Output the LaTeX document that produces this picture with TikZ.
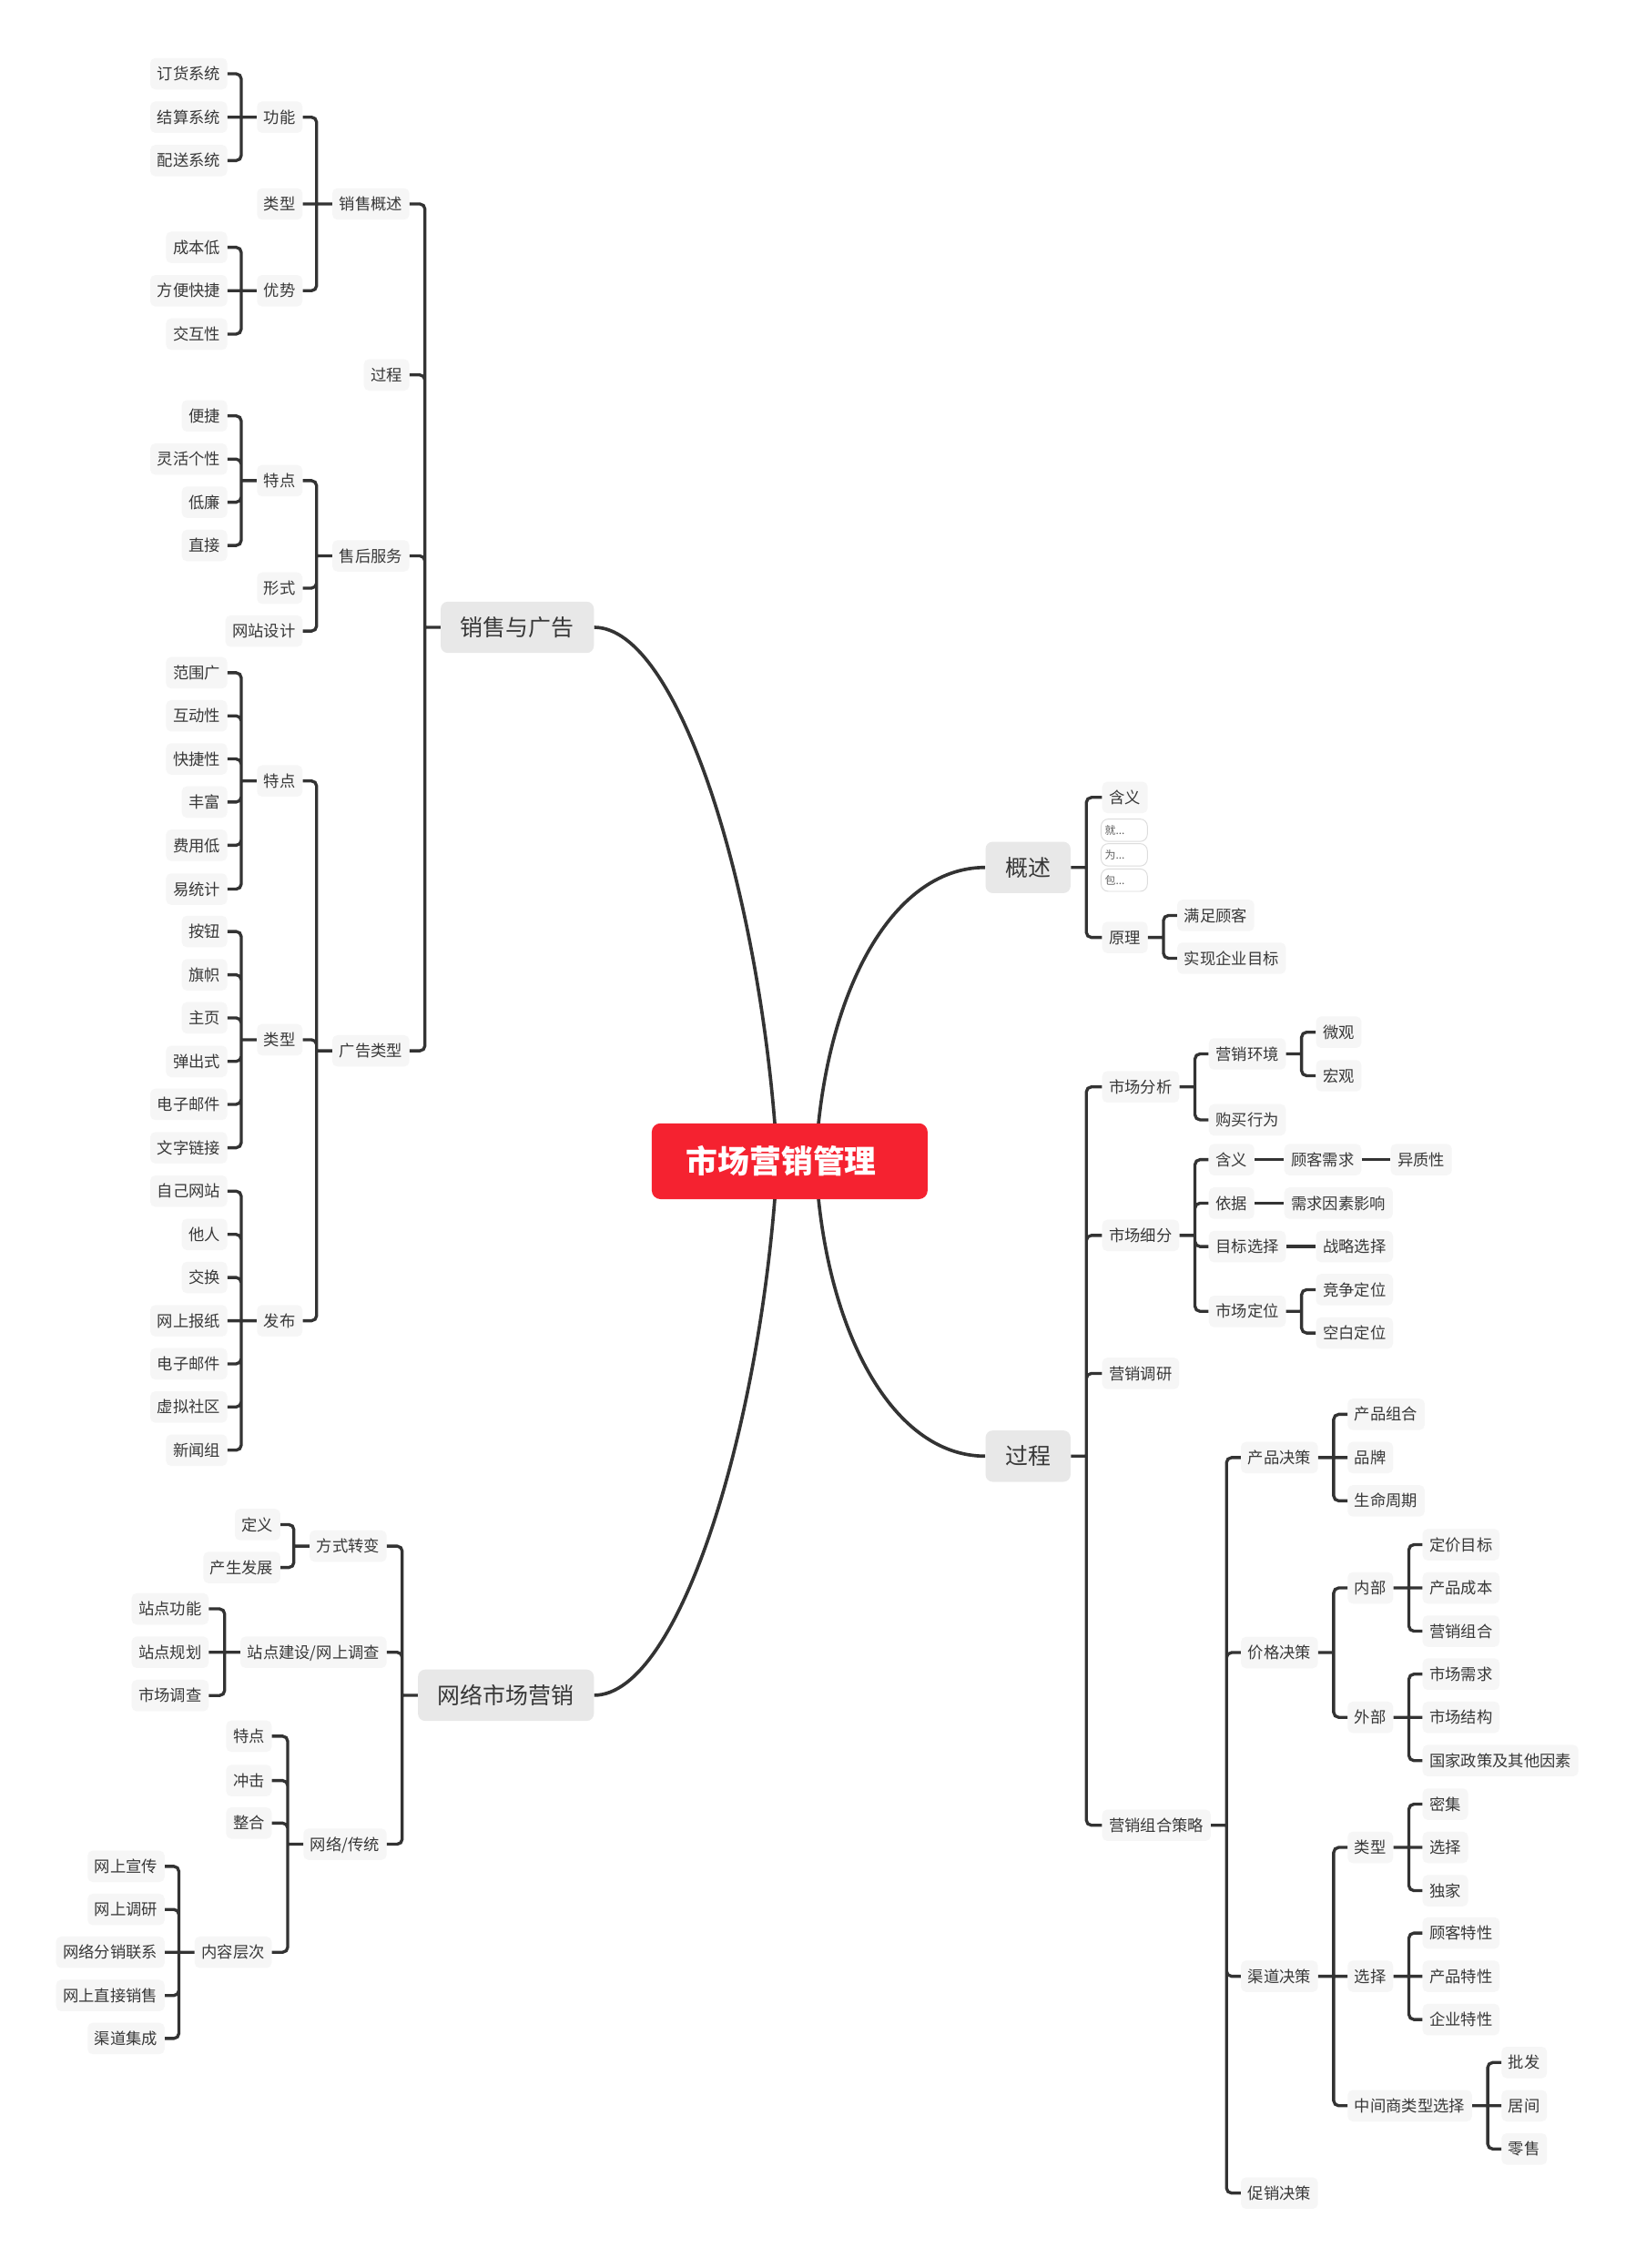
\documentclass[tikz,border=0pt]{standalone}
\usepackage{fontspec}
\setmainfont{Noto Sans CJK SC}
\usepackage{xcolor}
\usepackage{tikz}
\usetikzlibrary{backgrounds}

\definecolor{linegray}{HTML}{333333}
\definecolor{txtgray}{HTML}{383838}
\definecolor{topicfill}{HTML}{E8E8E8}
\definecolor{subfill}{HTML}{F6F6F6}
\definecolor{rootred}{HTML}{F52230}
\definecolor{noteline}{HTML}{DCDCDC}

\begin{document}
\begin{tikzpicture}[x=1pt, y=-1pt,
    root/.style={rectangle, rounded corners=6pt, fill=rootred, text=white,
                 font=\fontsize{21.9}{26}\selectfont\bfseries, align=left,
                 text width=142.9pt, inner xsep=23.9pt, inner ysep=0pt,
                 minimum height=52.4pt, text height=18.8pt, text depth=2.2pt},
    topic/.style={rectangle, rounded corners=5pt, fill=topicfill, text=txtgray,
                  font=\fontsize{15.7}{18}\selectfont, inner xsep=13.7pt,
                  inner ysep=0pt, minimum height=35.5pt,
                  text height=13.5pt, text depth=1.6pt},
    sub/.style={rectangle, rounded corners=3.5pt, fill=subfill, text=txtgray,
                font=\fontsize{10.9}{13}\selectfont, inner xsep=4.8pt,
                inner ysep=0pt, minimum height=21.7pt,
                text height=9.4pt, text depth=1.1pt},
    lsub/.style={sub, anchor=east},
    rsub/.style={sub, anchor=west},
    note/.style={rectangle, rounded corners=5pt, draw=noteline, line width=0.6pt,
                 fill=white, text=txtgray!80, font=\fontsize{7.5}{9}\selectfont,
                 anchor=west, align=left, text width=26.8pt, inner xsep=2.6pt,
                 inner ysep=0pt, minimum height=15.5pt},
    lnk/.style={draw=linegray, line width=2.1pt, rounded corners=3.5pt},
    trunk/.style={draw=linegray, line width=2.3pt},
]
\useasboundingbox (0,0) rectangle (1131,1568);

% root and main topics
\node[root] (root) at (546,802.8) {市场营销管理};
\node[topic, anchor=east] (xsgg) at (410.8,433.7) {销售与广告};
\node[topic, anchor=east] (wlyx) at (410.8,1172) {网络市场营销};
\node[topic, anchor=west] (gs) at (681.2,599.7) {概述};
\node[topic, anchor=west] (gc) at (681.2,1006.7) {过程};
\coordinate (rootL) at (537.5,802.8);
\coordinate (rootR) at (564,802.8);

% 销售与广告: 销售概述
\node[lsub] (xsgs) at (283.2,141) {销售概述};
\node[lsub] (gn)   at (209.3,81)  {功能};
\node[lsub] (xslx) at (209.3,141) {类型};
\node[lsub] (ys)   at (209.3,201) {优势};
\node[lsub] (dhxt) at (157.3,51)  {订货系统};
\node[lsub] (jsxt) at (157.3,81)  {结算系统};
\node[lsub] (psxt) at (157.3,111) {配送系统};
\node[lsub] (cbd)  at (157.3,171) {成本低};
\node[lsub] (fbkj) at (157.3,201) {方便快捷};
\node[lsub] (jhx)  at (157.3,231) {交互性};

% 销售与广告: 过程, 售后服务
\node[lsub] (xsgc) at (283.2,259.2) {过程};
\node[lsub] (shfw) at (283.2,384.3) {售后服务};
\node[lsub] (shtd) at (209.3,332.3) {特点};
\node[lsub] (xs)   at (209.3,406.6) {形式};
\node[lsub] (wzsj) at (209.3,436.3) {网站设计};
\node[lsub] (bj)   at (157.3,287.5) {便捷};
\node[lsub] (lhgx) at (157.3,317.4) {灵活个性};
\node[lsub] (dl)   at (157.3,347.2) {低廉};
\node[lsub] (zj)   at (157.3,377.1) {直接};

% 销售与广告: 广告类型
\node[lsub] (gglx) at (283.2,726.5) {广告类型};
\node[lsub] (ggtd) at (209.3,539.9) {特点};
\node[lsub] (ggty) at (209.3,718.8) {类型};
\node[lsub] (ggfb) at (209.3,913.1) {发布};
\node[lsub] (fwg)  at (157.3,465.1) {范围广};
\node[lsub] (hdx)  at (157.3,494.9) {互动性};
\node[lsub] (kjx)  at (157.3,524.7) {快捷性};
\node[lsub] (ff)   at (157.3,554.5) {丰富};
\node[lsub] (fyd)  at (157.3,584.4) {费用低};
\node[lsub] (ytj)  at (157.3,614.7) {易统计};
\node[lsub] (an)   at (157.3,644)   {按钮};
\node[lsub] (qz)   at (157.3,673.9) {旗帜};
\node[lsub] (zy)   at (157.3,703.7) {主页};
\node[lsub] (tcs)  at (157.3,733.8) {弹出式};
\node[lsub] (dzyj) at (157.3,763.5) {电子邮件};
\node[lsub] (wzlj) at (157.3,793.5) {文字链接};
\node[lsub] (zjwz) at (157.3,823.5) {自己网站};
\node[lsub] (tr)   at (157.3,853.4) {他人};
\node[lsub] (jh)   at (157.3,883.2) {交换};
\node[lsub] (wsbz) at (157.3,913.1) {网上报纸};
\node[lsub] (dzyjb) at (157.3,942.9) {电子邮件};
\node[lsub] (xnsq) at (157.3,972.7) {虚拟社区};
\node[lsub] (xwz)  at (157.3,1002.6) {新闻组};

% 网络市场营销
\node[lsub] (fszb) at (267.5,1068.9) {方式转变};
\node[lsub] (dy)   at (194,1054)     {定义};
\node[lsub] (csfz) at (194,1083.7)   {产生发展};
\node[lsub] (zdjs) at (267.5,1142.3) {站点建设/网上调查};
\node[lsub] (zdgn) at (144.4,1112.3) {站点功能};
\node[lsub] (zdgh) at (144.4,1142.3) {站点规划};
\node[lsub] (scdc) at (144.4,1172.2) {市场调查};
\node[lsub] (wlct) at (267.5,1275)   {网络/传统};
\node[lsub] (wltd) at (188,1200.3)   {特点};
\node[lsub] (cj)   at (188,1231)     {冲击};
\node[lsub] (zh)   at (188,1260.4)   {整合};
\node[lsub] (nrcc) at (188,1349.7)   {内容层次};
\node[lsub] (wsxc) at (114,1290.3)   {网上宣传};
\node[lsub] (wsdy) at (114,1320.1)   {网上调研};
\node[lsub] (wlfx) at (114,1349.7)   {网络分销联系};
\node[lsub] (wszx) at (114,1379.6)   {网上直接销售};
\node[lsub] (qdjch) at (114,1409.3)  {渠道集成};

% 概述
\node[rsub] (gshy) at (761.9,551.3) {含义};
\node[note] (nt1)  at (761,574)     {就...};
\node[note] (nt2)  at (761,591)     {为...};
\node[note] (nt3)  at (761,608.5)   {包...};
\node[rsub] (yl)   at (761.9,648.1) {原理};
\node[rsub] (mzgk) at (813.8,632.9) {满足顾客};
\node[rsub] (sxmb) at (813.8,662.5) {实现企业目标};

% 过程: 市场分析, 市场细分, 营销调研
\node[rsub] (scfx) at (761.9,751.4) {市场分析};
\node[rsub] (yxhj) at (835.6,728.6) {营销环境};
\node[rsub] (wg)   at (909.7,713.6) {微观};
\node[rsub] (hg)   at (909.7,743.7) {宏观};
\node[rsub] (gmxw) at (835.6,774.2) {购买行为};
\node[rsub] (scxf) at (761.9,854.1) {市场细分};
\node[rsub] (xfhy) at (835.6,801.7) {含义};
\node[rsub] (gkxq) at (887.8,801.7) {顾客需求};
\node[rsub] (yzx)  at (961.3,801.7) {异质性};
\node[rsub] (yj)   at (835.6,831.8) {依据};
\node[rsub] (xqys) at (887.8,831.8) {需求因素影响};
\node[rsub] (mbxz) at (835.6,861.8) {目标选择};
\node[rsub] (zlxz) at (909.7,861.8) {战略选择};
\node[rsub] (scdw) at (835.6,906.6) {市场定位};
\node[rsub] (jzdw) at (909.7,891.6) {竞争定位};
\node[rsub] (kbdw) at (909.7,921.6) {空白定位};
\node[rsub] (yxdy) at (761.9,949.5) {营销调研};

% 过程: 营销组合策略
\node[rsub] (yxcl) at (761.9,1261.9) {营销组合策略};
\node[rsub] (cpjc) at (857.8,1007.7) {产品决策};
\node[rsub] (cpzh) at (931.6,977.8)  {产品组合};
\node[rsub] (pp)   at (931.6,1007.7) {品牌};
\node[rsub] (smzq) at (931.6,1037.6) {生命周期};
\node[rsub] (jgjc) at (857.8,1142.5) {价格决策};
\node[rsub] (nb)   at (931.6,1097.8) {内部};
\node[rsub] (djmb) at (983.4,1067.9) {定价目标};
\node[rsub] (cpcb) at (983.4,1097.8) {产品成本};
\node[rsub] (yxzh) at (983.4,1127.7) {营销组合};
\node[rsub] (wb)   at (931.6,1187.3) {外部};
\node[rsub] (scxq) at (983.4,1157.4) {市场需求};
\node[rsub] (scjg) at (983.4,1187.3) {市场结构};
\node[rsub] (gjzc) at (983.4,1217.2) {国家政策及其他因素};
\node[rsub] (qdjc) at (857.8,1366.3) {渠道决策};
\node[rsub] (qdlx) at (931.6,1277.2) {类型};
\node[rsub] (mj)   at (983.4,1247.3) {密集};
\node[rsub] (lxxz) at (983.4,1277.2) {选择};
\node[rsub] (dj)   at (983.4,1307.1) {独家};
\node[rsub] (qdxz) at (931.6,1366.3) {选择};
\node[rsub] (gktx) at (983.4,1336.4) {顾客特性};
\node[rsub] (cptx) at (983.4,1366.3) {产品特性};
\node[rsub] (qytx) at (983.4,1396.2) {企业特性};
\node[rsub] (zjs)  at (931.6,1455.8) {中间商类型选择};
\node[rsub] (pf)   at (1038,1425.9)  {批发};
\node[rsub] (jj)   at (1038,1455.8)  {居间};
\node[rsub] (ls)   at (1038,1485.7)  {零售};
\node[rsub] (cxjc) at (857.8,1516.2) {促销决策};

% left brackets
\draw[lnk] (xsgg.west) -- ++(-10.7,0) coordinate (j) (j) |- (xsgs.east) (j) |- (xsgc.east) (j) |- (shfw.east) (j) |- (gglx.east);
\draw[lnk] (xsgs.west) -- ++(-10.7,0) coordinate (j) (j) |- (gn.east) (j) -- (xslx.east) (j) |- (ys.east);
\draw[lnk] (gn.west) -- ++(-10.7,0) coordinate (j) (j) |- (dhxt.east) (j) -- (jsxt.east) (j) |- (psxt.east);
\draw[lnk] (ys.west) -- ++(-10.7,0) coordinate (j) (j) |- (cbd.east) (j) -- (fbkj.east) (j) |- (jhx.east);
\draw[lnk] (shfw.west) -- ++(-10.7,0) coordinate (j) (j) |- (shtd.east) (j) |- (xs.east) (j) |- (wzsj.east);
\draw[lnk] (shtd.west) -- ++(-10.7,0) coordinate (j) (j) |- (bj.east) (j) |- (lhgx.east) (j) |- (dl.east) (j) |- (zj.east);
\draw[lnk] (gglx.west) -- ++(-10.7,0) coordinate (j) (j) |- (ggtd.east) (j) |- (ggty.east) (j) |- (ggfb.east);
\draw[lnk] (ggtd.west) -- ++(-10.7,0) coordinate (j) (j) |- (fwg.east) (j) |- (hdx.east) (j) |- (kjx.east) (j) |- (ff.east) (j) |- (fyd.east) (j) |- (ytj.east);
\draw[lnk] (ggty.west) -- ++(-10.7,0) coordinate (j) (j) |- (an.east) (j) |- (qz.east) (j) |- (zy.east) (j) |- (tcs.east) (j) |- (dzyj.east) (j) |- (wzlj.east);
\draw[lnk] (ggfb.west) -- ++(-10.7,0) coordinate (j) (j) |- (zjwz.east) (j) |- (tr.east) (j) |- (jh.east) (j) -- (wsbz.east) (j) |- (dzyjb.east) (j) |- (xnsq.east) (j) |- (xwz.east);
\draw[lnk] (wlyx.west) -- ++(-10.7,0) coordinate (j) (j) |- (fszb.east) (j) |- (zdjs.east) (j) |- (wlct.east);
\draw[lnk] (fszb.west) -- ++(-10.7,0) coordinate (j) (j) |- (dy.east) (j) |- (csfz.east);
\draw[lnk] (zdjs.west) -- ++(-10.7,0) coordinate (j) (j) |- (zdgn.east) (j) -- (zdgh.east) (j) |- (scdc.east);
\draw[lnk] (wlct.west) -- ++(-10.7,0) coordinate (j) (j) |- (wltd.east) (j) |- (cj.east) (j) |- (zh.east) (j) |- (nrcc.east);
\draw[lnk] (nrcc.west) -- ++(-10.7,0) coordinate (j) (j) |- (wsxc.east) (j) |- (wsdy.east) (j) -- (wlfx.east) (j) |- (wszx.east) (j) |- (qdjch.east);

% right brackets
\draw[lnk] (gs.east) -- ++(10.7,0) coordinate (j) (j) |- (gshy.west) (j) |- (yl.west);
\draw[lnk] (yl.east) -- ++(10.7,0) coordinate (j) (j) |- (mzgk.west) (j) |- (sxmb.west);
\draw[lnk] (gc.east) -- ++(10.7,0) coordinate (j) (j) |- (scfx.west) (j) |- (scxf.west) (j) |- (yxdy.west) (j) |- (yxcl.west);
\draw[lnk] (scfx.east) -- ++(10.7,0) coordinate (j) (j) |- (yxhj.west) (j) |- (gmxw.west);
\draw[lnk] (yxhj.east) -- ++(10.7,0) coordinate (j) (j) |- (wg.west) (j) |- (hg.west);
\draw[lnk] (scxf.east) -- ++(10.7,0) coordinate (j) (j) |- (xfhy.west) (j) |- (yj.west) (j) |- (mbxz.west) (j) |- (scdw.west);
\draw[lnk] (xfhy.east) -- (gkxq.west);
\draw[lnk] (gkxq.east) -- (yzx.west);
\draw[lnk] (yj.east) -- (xqys.west);
\draw[lnk] (mbxz.east) -- (zlxz.west);
\draw[lnk] (scdw.east) -- ++(10.7,0) coordinate (j) (j) |- (jzdw.west) (j) |- (kbdw.west);
\draw[lnk] (yxcl.east) -- ++(10.7,0) coordinate (j) (j) |- (cpjc.west) (j) |- (jgjc.west) (j) |- (qdjc.west) (j) |- (cxjc.west);
\draw[lnk] (cpjc.east) -- ++(10.7,0) coordinate (j) (j) |- (cpzh.west) (j) -- (pp.west) (j) |- (smzq.west);
\draw[lnk] (jgjc.east) -- ++(10.7,0) coordinate (j) (j) |- (nb.west) (j) |- (wb.west);
\draw[lnk] (nb.east) -- ++(10.7,0) coordinate (j) (j) |- (djmb.west) (j) -- (cpcb.west) (j) |- (yxzh.west);
\draw[lnk] (wb.east) -- ++(10.7,0) coordinate (j) (j) |- (scxq.west) (j) -- (scjg.west) (j) |- (gjzc.west);
\draw[lnk] (qdjc.east) -- ++(10.7,0) coordinate (j) (j) |- (qdlx.west) (j) -- (qdxz.west) (j) |- (zjs.west);
\draw[lnk] (qdlx.east) -- ++(10.7,0) coordinate (j) (j) |- (mj.west) (j) -- (lxxz.west) (j) |- (dj.west);
\draw[lnk] (qdxz.east) -- ++(10.7,0) coordinate (j) (j) |- (gktx.west) (j) -- (cptx.west) (j) |- (qytx.west);
\draw[lnk] (zjs.east) -- ++(10.7,0) coordinate (j) (j) |- (pf.west) (j) -- (jj.west) (j) |- (ls.west);

% main curves behind the root
\begin{scope}[on background layer]
\fill[white] (0,0) rectangle (1131,1568);
\draw[trunk] (rootL) .. controls +(-10.5,-183) and +(59,0) .. (xsgg.east);
\draw[trunk] (rootL) .. controls +(-10.5,183) and +(59,0) .. (wlyx.east);
\draw[trunk] (rootR) .. controls +(5,-113) and +(-66,0) .. (gs.west);
\draw[trunk] (rootR) .. controls +(5,113) and +(-66,0) .. (gc.west);
\end{scope}

\end{tikzpicture}
\end{document}
